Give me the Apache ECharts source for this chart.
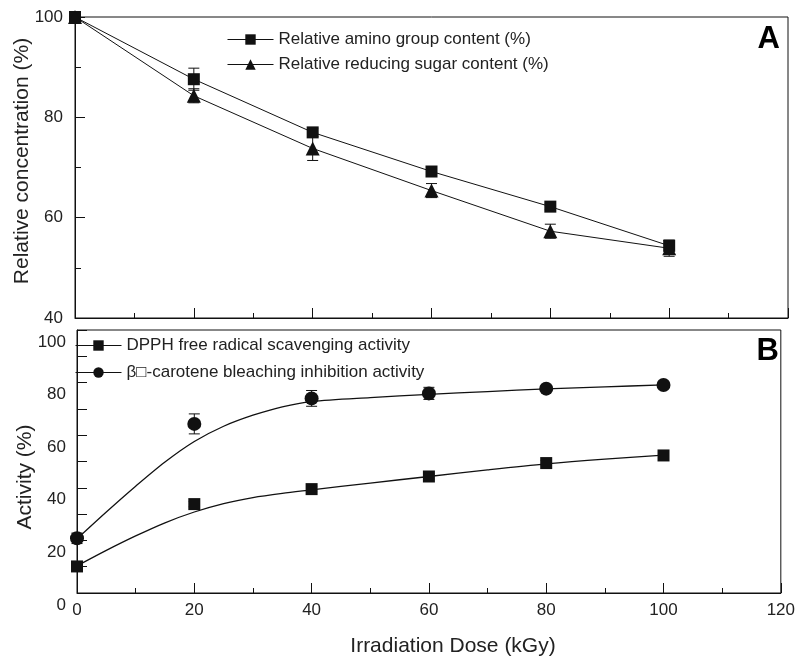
<!DOCTYPE html>
<html>
<head>
<meta charset="utf-8">
<script src="https://cdn.jsdelivr.net/npm/echarts@6/dist/echarts.min.js"></script>
<style>
html,body{margin:0;padding:0;background:#fff;}
#chart{width:798px;height:657px;}
</style>
</head>
<body>
<div id="chart"></div>
<script>
// ---- Data ----
const doseA = [0, 20, 40, 60, 80, 100];
const aminoName = 'Relative amino group content (%)';
const sugarName = 'Relative reducing sugar content (%)';
const amino = [100, 87.6, 77.0, 69.2, 62.2, 54.4];
const aminoErr = [0.5, 2.2, 0.8, 0.8, 0.6, 1.1];
const sugar = [100, 84.3, 73.8, 65.4, 57.3, 53.9];
const sugarErr = [0.5, 1.4, 2.4, 1.4, 1.4, 1.6];

const doseB = [0, 20, 40, 60, 80, 100];
const dpphName = 'DPPH free radical scavenging activity';
const caroteneName = 'β□-carotene bleaching inhibition activity';
const dpph = [10.1, 33.8, 39.5, 44.3, 49.4, 52.3];
const dpphErr = [1.0, 1.0, 1.0, 1.0, 1.0, 1.0];
const carotene = [20.8, 64.3, 74.0, 75.9, 77.7, 79.1];
const caroteneErr = [2.0, 3.8, 3.0, 2.3, 1.0, 1.0];

// fitted curves
const fitX = [0, 5, 10, 15, 20, 25, 30, 35, 40, 50, 60, 70, 80, 90, 100];
const dpphFit = [10.3, 16.2, 21.7, 26.7, 30.8, 34.0, 36.3, 37.9, 39.2, 41.8, 44.3, 46.8, 49.1, 50.9, 52.4];
const caroteneFit = [20.6, 30.8, 40.6, 49.8, 57.6, 63.4, 67.6, 70.8, 72.8, 74.3, 75.5, 76.6, 77.6, 78.4, 79.1];

const xTicks = {min: 0, max: 120, interval: 20};
const yTicksA = {min: 40, max: 100, interval: 20};
const yTicksB = {min: 0, max: 100, interval: 20};

const FONT = "'Liberation Sans', Arial, sans-serif";
const INK = '#111';
const TXT = '#222';

function zip(xs, ys) { return xs.map((x, i) => [x, ys[i]]); }
function zip3(xs, ys, es) { return xs.map((x, i) => [x, ys[i], es[i]]); }

function errRender(params, api) {
  const x = api.value(0), y = api.value(1), e = api.value(2);
  const t = api.coord([x, y + e]);
  const b = api.coord([x, y - e]);
  const w = 5.5;
  const st = {stroke: INK, lineWidth: 1};
  return {
    type: 'group',
    children: [
      {type: 'line', shape: {x1: t[0], y1: t[1], x2: b[0], y2: b[1]}, style: st},
      {type: 'line', shape: {x1: t[0] - w, y1: t[1], x2: t[0] + w, y2: t[1]}, style: st},
      {type: 'line', shape: {x1: b[0] - w, y1: b[1], x2: b[0] + w, y2: b[1]}, style: st}
    ]
  };
}

const axisLine = {show: true, lineStyle: {color: INK, width: 1}};

const chart = echarts.init(document.getElementById('chart'), null, {renderer: 'canvas'});
chart.setOption({
  animation: false,
  backgroundColor: '#fff',
  textStyle: {fontFamily: FONT},
  grid: [
    {left: 75, top: 17, width: 713, height: 301, show: true, borderColor: INK, borderWidth: 1, backgroundColor: 'transparent'},
    {left: 77, top: 330, width: 714, height: 263, show: true, borderColor: INK, borderWidth: 1, backgroundColor: 'transparent'}
  ],
  xAxis: [
    {type: 'value', gridIndex: 0, min: xTicks.min, max: xTicks.max, interval: xTicks.interval,
     axisLine: axisLine, axisTick: {show: true, inside: true, length: 10, lineStyle: {color: INK}},
     minorTick: {show: true, splitNumber: 2, length: 5, lineStyle: {color: INK}},
     axisLabel: {show: false}, splitLine: {show: false}},
    {type: 'value', gridIndex: 1, min: xTicks.min, max: xTicks.max, interval: xTicks.interval,
     axisLine: axisLine, axisTick: {show: true, inside: true, length: 10, lineStyle: {color: INK}},
     minorTick: {show: true, splitNumber: 2, length: 5, lineStyle: {color: INK}},
     axisLabel: {show: true, fontSize: 17, color: TXT, fontFamily: FONT, margin: 9},
     splitLine: {show: false}}
  ],
  yAxis: [
    {type: 'value', gridIndex: 0, min: yTicksA.min, max: yTicksA.max, interval: yTicksA.interval,
     axisLine: axisLine, axisTick: {show: true, inside: true, length: 10, lineStyle: {color: INK}},
     minorTick: {show: true, splitNumber: 2, length: 6, lineStyle: {color: INK}},
     axisLabel: {show: true, fontSize: 17, color: TXT, fontFamily: FONT, margin: 12},
     splitLine: {show: false}},
    {type: 'value', gridIndex: 1, min: yTicksB.min, max: yTicksB.max, interval: yTicksB.interval,
     axisLine: axisLine, axisTick: {show: true, inside: true, length: 10, lineStyle: {color: INK}},
     minorTick: {show: true, splitNumber: 2, length: 10, lineStyle: {color: INK}},
     axisLabel: {show: true, fontSize: 17, color: TXT, fontFamily: FONT, margin: 11,
                 verticalAlign: 'top', lineHeight: 24},
     splitLine: {show: false}}
  ],
  legend: [
    {data: [aminoName, sugarName], orient: 'vertical', left: 222, top: 26,
     itemWidth: 46, itemHeight: 13, itemGap: 8,
     textStyle: {fontSize: 17, color: TXT, fontFamily: FONT},
     lineStyle: {color: INK, width: 1, opacity: 1}},
    {data: [dpphName, caroteneName], orient: 'vertical', left: 70, top: 332,
     itemWidth: 46, itemHeight: 13, itemGap: 10,
     textStyle: {fontSize: 17, color: TXT, fontFamily: FONT},
     lineStyle: {color: INK, width: 1, opacity: 1}}
  ],
  graphic: [
    {type: 'text', x: 22, y: 161, rotation: Math.PI / 2,
     style: {text: 'Relative concentration (%)', font: '21px ' + FONT, fill: TXT, textAlign: 'center', textVerticalAlign: 'middle'}},
    {type: 'text', x: 25, y: 477, rotation: Math.PI / 2,
     style: {text: 'Activity (%)', font: '21px ' + FONT, fill: TXT, textAlign: 'center', textVerticalAlign: 'middle'}},
    {type: 'text', x: 453, y: 646,
     style: {text: 'Irradiation Dose (kGy)', font: '21px ' + FONT, fill: TXT, textAlign: 'center', textVerticalAlign: 'middle'}},
    {type: 'text', x: 780, y: 39,
     style: {text: 'A', font: 'bold 31px ' + FONT, fill: '#000', textAlign: 'right', textVerticalAlign: 'middle'}},
    {type: 'text', x: 779, y: 351,
     style: {text: 'B', font: 'bold 31px ' + FONT, fill: '#000', textAlign: 'right', textVerticalAlign: 'middle'}}
  ],
  series: [
    {type: 'custom', name: 'aminoErr', xAxisIndex: 0, yAxisIndex: 0, renderItem: errRender,
     data: zip3(doseA, amino, aminoErr), encode: {x: 0, y: 1}, z: 1, silent: true},
    {type: 'custom', name: 'sugarErr', xAxisIndex: 0, yAxisIndex: 0, renderItem: errRender,
     data: zip3(doseA, sugar, sugarErr), encode: {x: 0, y: 1}, z: 1, silent: true},
    {type: 'line', name: aminoName, xAxisIndex: 0, yAxisIndex: 0, data: zip(doseA, amino),
     symbol: 'rect', symbolSize: 12, itemStyle: {color: INK}, lineStyle: {color: INK, width: 1}, z: 3},
    {type: 'line', name: sugarName, xAxisIndex: 0, yAxisIndex: 0, data: zip(doseA, sugar),
     symbol: 'triangle', symbolSize: 14, itemStyle: {color: INK}, lineStyle: {color: INK, width: 1}, z: 3},

    {type: 'custom', name: 'dpphErr', xAxisIndex: 1, yAxisIndex: 1, renderItem: errRender,
     data: zip3(doseB, dpph, dpphErr), encode: {x: 0, y: 1}, z: 1, silent: true},
    {type: 'custom', name: 'caroteneErr', xAxisIndex: 1, yAxisIndex: 1, renderItem: errRender,
     data: zip3(doseB, carotene, caroteneErr), encode: {x: 0, y: 1}, z: 1, silent: true},
    {type: 'line', name: 'dpphFit', xAxisIndex: 1, yAxisIndex: 1, data: zip(fitX, dpphFit),
     smooth: 0.3, showSymbol: false, symbol: 'none', lineStyle: {color: INK, width: 1.3}, z: 2, silent: true},
    {type: 'line', name: 'caroteneFit', xAxisIndex: 1, yAxisIndex: 1, data: zip(fitX, caroteneFit),
     smooth: 0.3, showSymbol: false, symbol: 'none', lineStyle: {color: INK, width: 1.3}, z: 2, silent: true},
    {type: 'line', name: dpphName, xAxisIndex: 1, yAxisIndex: 1, data: zip(doseB, dpph),
     symbol: 'rect', symbolSize: 12, itemStyle: {color: INK}, lineStyle: {color: INK, width: 1, opacity: 0}, z: 3},
    {type: 'line', name: caroteneName, xAxisIndex: 1, yAxisIndex: 1, data: zip(doseB, carotene),
     symbol: 'circle', symbolSize: 14, itemStyle: {color: INK}, lineStyle: {color: INK, width: 1, opacity: 0}, z: 3}
  ]
});
</script>
</body>
</html>
